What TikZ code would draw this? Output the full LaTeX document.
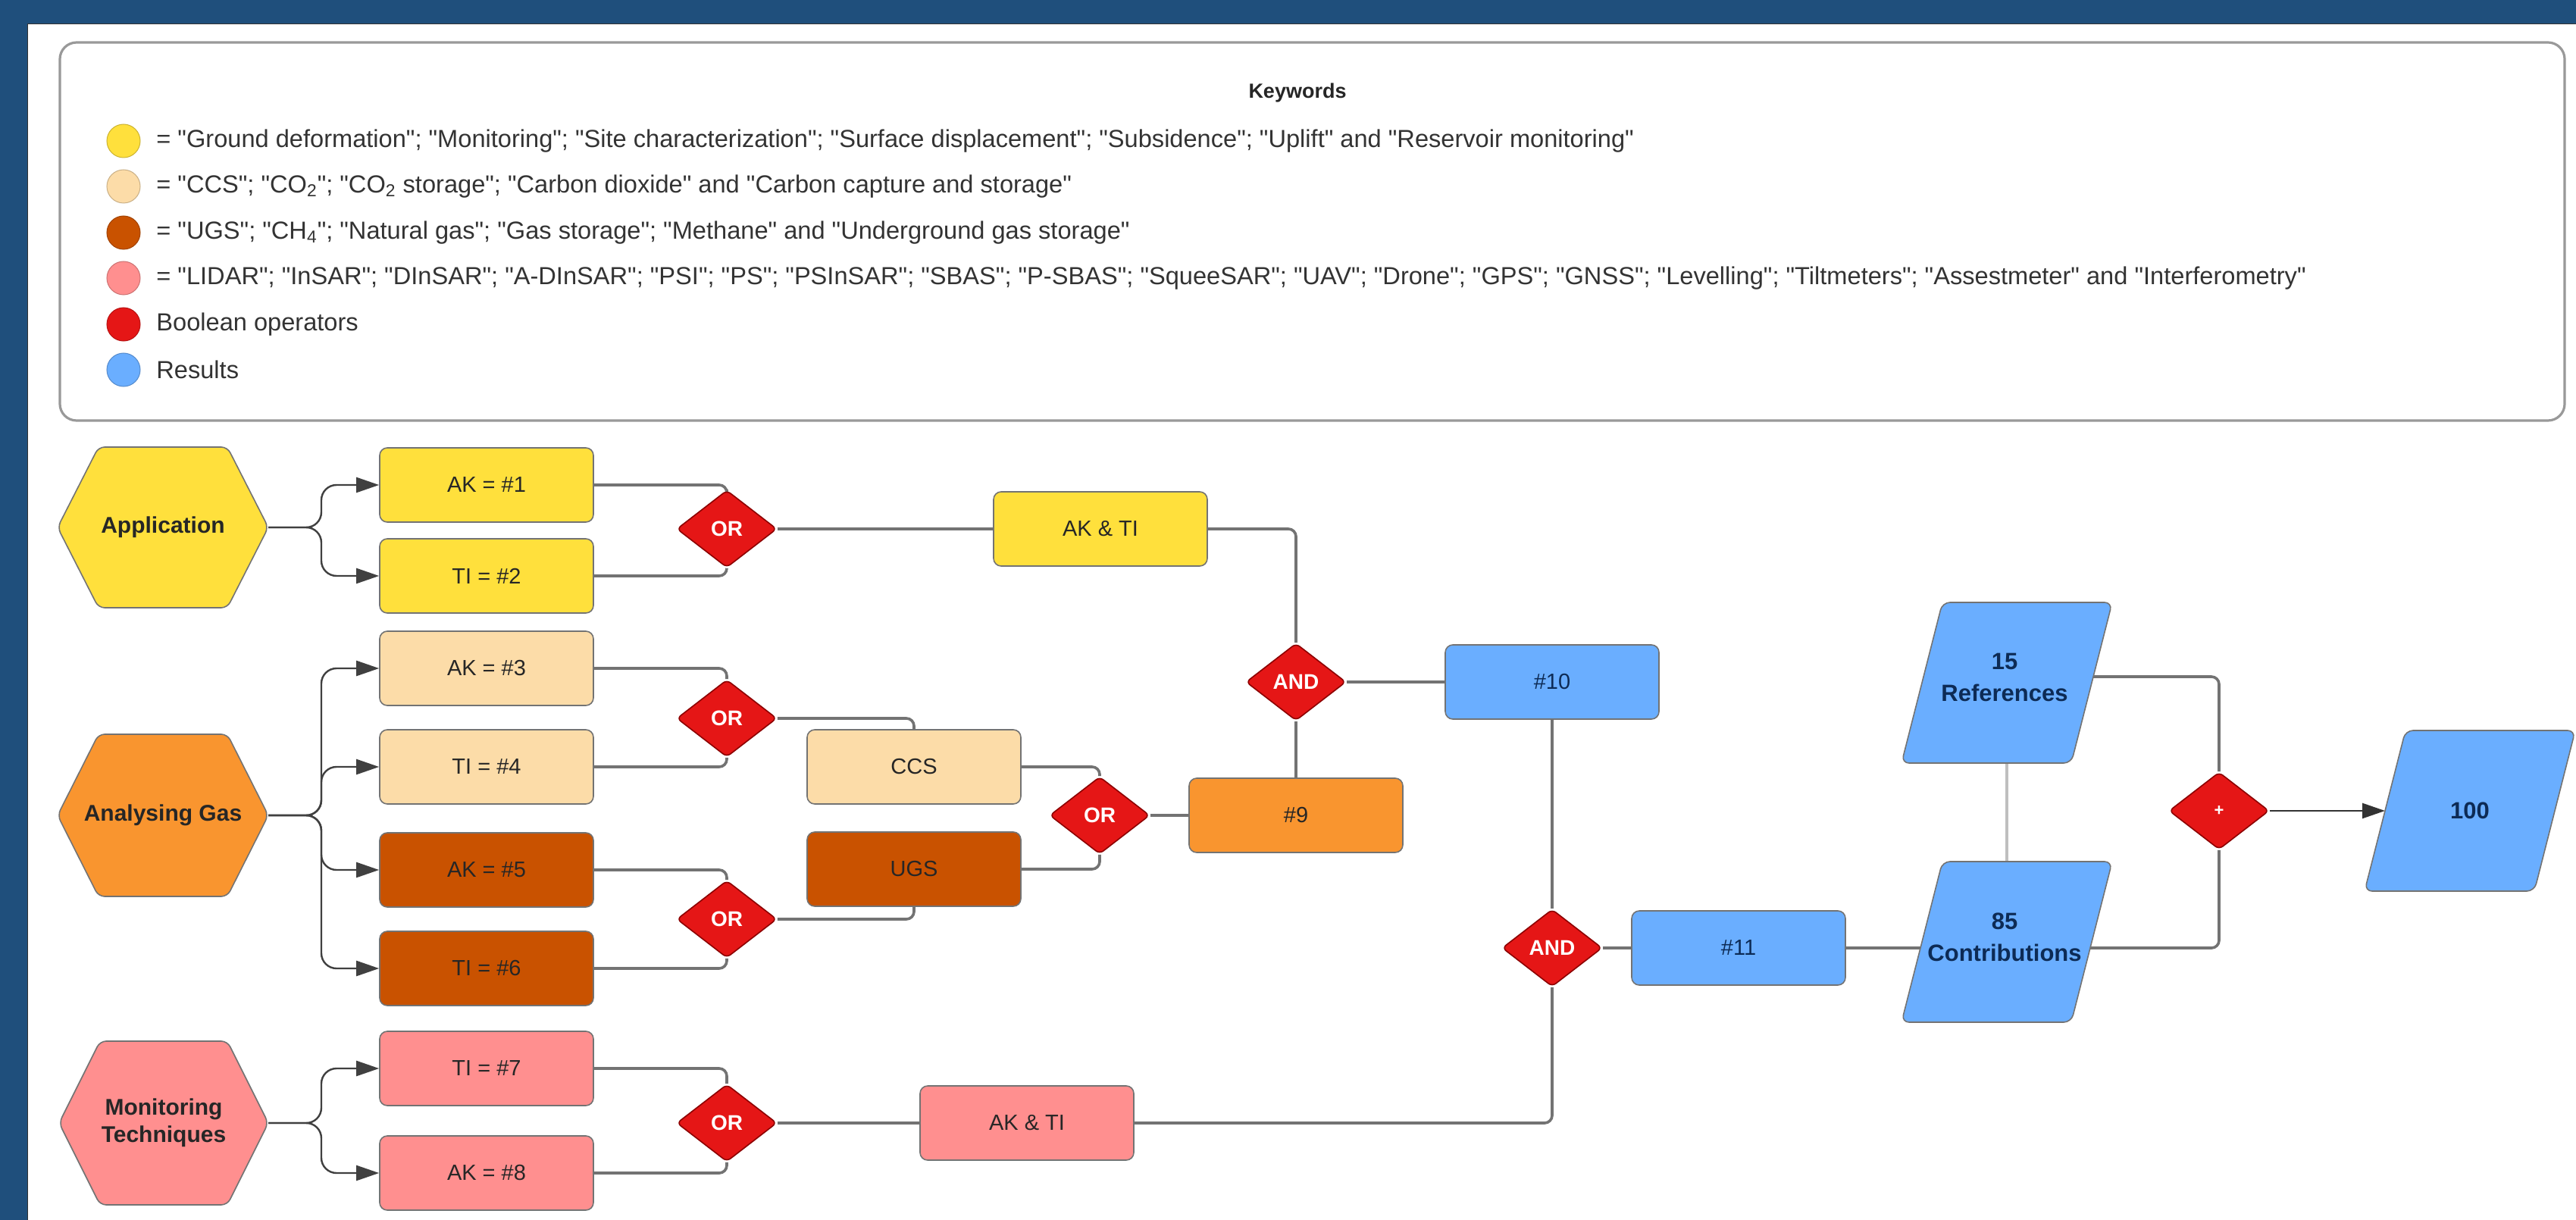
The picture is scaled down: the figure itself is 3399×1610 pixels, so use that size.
\documentclass[tikz,border=0pt]{standalone}
\usepackage{fontspec}
\setmainfont{Liberation Sans}
\newfontfamily\legfont{Liberation Sans}
\usetikzlibrary{shapes.geometric,arrows.meta}
\pgfdeclarelayer{background}
\pgfsetlayers{background,main}
\definecolor{bandblue}{HTML}{1F4F7C}
\definecolor{cyel}{HTML}{FFE03C}
\definecolor{clight}{HTML}{FCDCA8}
\definecolor{corange}{HTML}{F9952F}
\definecolor{cdark}{HTML}{C95200}
\definecolor{cpink}{HTML}{FF8F8F}
\definecolor{cred}{HTML}{E51616}
\definecolor{cblue}{HTML}{6AAEFF}
\definecolor{navy}{HTML}{0D2B55}
\definecolor{txt}{HTML}{262626}
\tikzset{
  box/.style={draw=black!55, line width=0.8pt, rounded corners=5pt, minimum width=141pt, minimum height=49pt, inner sep=0pt, font=\fontsize{14.5}{17}\selectfont, text=txt},
  gate/.style={diamond, draw=red!55!black, fill=cred, line width=0.8pt, rounded corners=3pt, minimum width=66pt, minimum height=51pt, inner sep=0pt, text=white, font=\bfseries\fontsize{14}{16}\selectfont},
  link/.style={draw=black!55, line width=1.8pt, rounded corners=5pt},
  branch/.style={draw=black!75, line width=1.2pt, rounded corners=10pt, -{Triangle[length=15pt,width=10pt]}},
  hexlabel/.style={font=\bfseries\fontsize{15}{18}\selectfont, text=txt, align=center, inner sep=0pt},
  hexfill/.style={draw=black!55, line width=0.8pt, fill=#1, rounded corners=4pt},
  parafill/.style={draw=black!55, line width=0.8pt, fill=cblue, rounded corners=5pt},
  leg/.style={anchor=west, inner sep=0pt, font=\legfont\fontsize{16.3}{18}\selectfont, text=black!80},
  dot/.style={circle, minimum size=22pt, inner sep=0pt, line width=0.5pt},
  reslabel/.style={font=\bfseries\fontsize{15.5}{21}\selectfont, text=navy, align=center, inner sep=0pt},
  arrowlink/.style={draw=black!80, line width=1.2pt, -{Triangle[length=15pt,width=10pt]}},
  faintlink/.style={draw=black!25, line width=1.8pt},
}
\begin{document}
\begin{tikzpicture}[x=0.5pt, y=-0.5pt]
\useasboundingbox (0,0) rectangle (3399,1610);
\begin{pgfonlayer}{background}
  \fill[white] (0,0) rectangle (3399,1610);
  \fill[bandblue] (0,0) rectangle (3399,32);
  \fill[bandblue] (0,0) rectangle (36,1610);
  \draw[black!80, line width=0.5pt] (36,1610) -- (36,32) -- (3399,32);
\end{pgfonlayer}

% Legend
\draw[black!40, line width=1.6pt, rounded corners=11pt] (79,56) rectangle (3384,555);
\node[font=\bfseries\fontsize{13.5}{16}\selectfont, text=black!85] (kw) at (1712,123) {Keywords};
\node[dot, fill=cyel, draw=cyel!80!black] (d1) at (163,186) {};
\node[dot, fill=clight, draw=clight!80!black] (d2) at (163,246) {};
\node[dot, fill=cdark, draw=cdark!80!black] (d3) at (163,307) {};
\node[dot, fill=cpink, draw=cpink!80!black] (d4) at (163,367) {};
\node[dot, fill=cred, draw=cred!80!black] (d5) at (163,428) {};
\node[dot, fill=cblue, draw=cblue!80!black] (d6) at (163,488) {};
\node[leg] (l1) at (206,186) {= "Ground deformation"; "Monitoring"; "Site characterization"; "Surface displacement"; "Subsidence"; "Uplift" and "Reservoir monitoring"};
\node[leg] (l2) at (206,246) {= "CCS"; "CO\textsubscript{2}"; "CO\textsubscript{2} storage"; "Carbon dioxide" and "Carbon capture and storage"};
\node[leg] (l3) at (206,307) {= "UGS"; "CH\textsubscript{4}"; "Natural gas"; "Gas storage"; "Methane" and "Underground gas storage"};
\node[leg] (l4) at (206,367) {= "LIDAR"; "InSAR"; "DInSAR"; "A-DInSAR"; "PSI"; "PS"; "PSInSAR"; "SBAS"; "P-SBAS"; "SqueeSAR"; "UAV"; "Drone"; "GPS"; "GNSS"; "Levelling"; "Tiltmeters"; "Assestmeter" and "Interferometry"};
\node[leg] (l5) at (206,428) {Boolean operators};
\node[leg] (l6) at (206,488) {Results};

% Hexagons
\begin{scope}[shift={(215,696)}]
  \path[hexfill=cyel] (-139,0) -- (-85,-106) -- (85,-106) -- (139,0) -- (85,106) -- (-85,106) -- cycle;
  \node[hexlabel] (app) at (0,0) {Application};
  \coordinate (appE) at (139,0);
\end{scope}
\begin{scope}[shift={(215,1076)}]
  \path[hexfill=corange] (-139,0) -- (-85,-107) -- (85,-107) -- (139,0) -- (85,107) -- (-85,107) -- cycle;
  \node[hexlabel] (gas) at (0,0) {Analysing Gas};
  \coordinate (gasE) at (139,0);
\end{scope}
\begin{scope}[shift={(216,1482)}]
  \path[hexfill=cpink] (-138,0) -- (-84,-108) -- (84,-108) -- (138,0) -- (84,108) -- (-84,108) -- cycle;
  \node[hexlabel] (mon) at (0,0) {Monitoring\\Techniques};
  \coordinate (monE) at (138,0);
\end{scope}

% Keyword boxes
\node[box, fill=cyel] (ak1) at (642,640) {AK = \#1};
\node[box, fill=cyel] (ti2) at (642,760) {TI = \#2};
\node[box, fill=clight] (ak3) at (642,882) {AK = \#3};
\node[box, fill=clight] (ti4) at (642,1012) {TI = \#4};
\node[box, fill=cdark] (ak5) at (642,1148) {AK = \#5};
\node[box, fill=cdark] (ti6) at (642,1278) {TI = \#6};
\node[box, fill=cpink] (ti7) at (642,1410) {TI = \#7};
\node[box, fill=cpink] (ak8) at (642,1548) {AK = \#8};

% Gates
\node[gate] (or1) at (959,698) {OR};
\node[gate] (or2) at (959,948) {OR};
\node[gate] (or3) at (959,1213) {OR};
\node[gate] (or4) at (959,1482) {OR};
\node[gate] (or5) at (1451,1076) {OR};
\node[gate] (and1) at (1710,900) {AND};
\node[gate] (and2) at (2048,1251) {AND};
\node[gate, font=\bfseries\fontsize{11}{12}\selectfont] (plus) at (2928,1070) {+};

% Intermediate boxes
\node[box, fill=cyel] (aktiY) at (1452,698) {AK \& TI};
\node[box, fill=clight] (ccs) at (1206,1012) {CCS};
\node[box, fill=cdark] (ugs) at (1206,1147) {UGS};
\node[box, fill=corange] (n9) at (1710,1076) {\#9};
\node[box, fill=cblue, text=navy] (n10) at (2048,900) {\#10};
\node[box, fill=cblue, text=navy] (n11) at (2294,1251) {\#11};
\node[box, fill=cpink] (aktiP) at (1355,1482) {AK \& TI};

% Result parallelograms
\begin{scope}[shift={(2648,901)}]
  \path[parafill] (-139,106) -- (85,106) -- (139,-106) -- (-85,-106) -- cycle;
  \node[reslabel] (ref) at (-3,-7) {15\\References};
  \coordinate (refE) at (114,-8);
  \coordinate (refS) at (0,106);
\end{scope}
\begin{scope}[shift={(2648,1243)}]
  \path[parafill] (-139,106) -- (85,106) -- (139,-106) -- (-85,-106) -- cycle;
  \node[reslabel] (con) at (-3,-6) {85\\Contributions};
  \coordinate (conW) at (-114,8);
  \coordinate (conE) at (110,8);
  \coordinate (conN) at (0,-106);
\end{scope}
\begin{scope}[shift={(3259,1070)}]
  \path[parafill] (-139,106) -- (85,106) -- (139,-106) -- (-85,-106) -- cycle;
  \node[reslabel] (hund) at (0,0) {100};
  \coordinate (hundW) at (-112,0);
\end{scope}

% Connectors
\begin{pgfonlayer}{background}
  \draw[branch] (appE) -- (424,696) |- (ak1.west);
  \draw[branch] (appE) -- (424,696) |- (ti2.west);
  \draw[branch] (gasE) -- (424,1076) |- (ak3.west);
  \draw[branch] (gasE) -- (424,1076) |- (ti4.west);
  \draw[branch] (gasE) -- (424,1076) |- (ak5.west);
  \draw[branch] (gasE) -- (424,1076) |- (ti6.west);
  \draw[branch] (monE) -- (424,1482) |- (ti7.west);
  \draw[branch] (monE) -- (424,1482) |- (ak8.west);

  \draw[link] (ak1.east) -| (or1.north);
  \draw[link] (ti2.east) -| (or1.south);
  \draw[link] (or1.east) -- (aktiY.west);
  \draw[link] (aktiY.east) -| (and1.north);
  \draw[link] (ak3.east) -| (or2.north);
  \draw[link] (ti4.east) -| (or2.south);
  \draw[link] (or2.east) -| (ccs.north);
  \draw[link] (ak5.east) -| (or3.north);
  \draw[link] (ti6.east) -| (or3.south);
  \draw[link] (or3.east) -| (ugs.south);
  \draw[link] (ccs.east) -| (or5.north);
  \draw[link] (ugs.east) -| (or5.south);
  \draw[link] (or5.east) -- (n9.west);
  \draw[link] (n9.north) -- (and1.south);
  \draw[link] (and1.east) -- (n10.west);
  \draw[link] (n10.south) -- (and2.north);
  \draw[link] (ti7.east) -| (or4.north);
  \draw[link] (ak8.east) -| (or4.south);
  \draw[link] (or4.east) -- (aktiP.west);
  \draw[link] (aktiP.east) -| (and2.south);
  \draw[link] (and2.east) -- (n11.west);
  \draw[link] (n11.east) -- (conW);
  \draw[link] (refE) -| (plus.north);
  \draw[link] (conE) -| (plus.south);
  \draw[faintlink] (refS) -- (conN);
  \draw[arrowlink] (plus.east) -- (hundW);
\end{pgfonlayer}
\end{tikzpicture}
\end{document}
